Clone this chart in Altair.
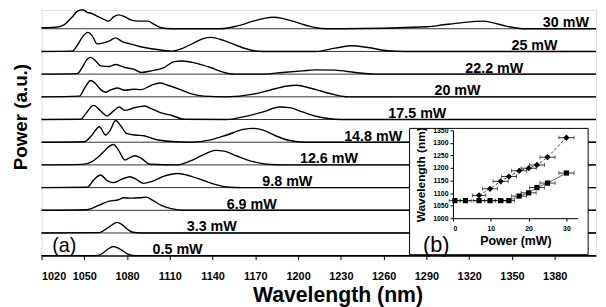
import altair as alt
import pandas as pd

FONT = "Liberation Sans"

powers = ["0.5 mW", "3.3 mW", "6.9 mW", "9.8 mW", "12.6 mW", "14.8 mW",
          "17.5 mW", "20 mW", "22.2 mW", "25 mW", "30 mW"]

wl_05 = [1020, 1058, 1062, 1066, 1070.5, 1075, 1082, 1086, 1409]
pw_05 = [0, 0, 1.7, 6, 9.3, 6.7, 0.7, 0, 0]

wl_33 = [1020, 1060, 1067, 1073, 1076, 1080, 1084, 1090, 1409]
pw_33 = [0, 0.3, 5.7, 10.7, 9, 4, 0.7, 0, 0]

wl_69 = [1020, 1051, 1060, 1067, 1074, 1077.5, 1083, 1089, 1093.5, 1098, 1104, 1111, 1120, 1409]
pw_69 = [0, 0.5, 5, 9, 10.7, 12.7, 12.3, 12.7, 13.3, 10, 5, 1.7, 0, 0]

wl_98 = [1020, 1052, 1056.5, 1061.5, 1066, 1070.5, 1076, 1082, 1086.5, 1091.5, 1097, 1106,
         1115.5, 1124.5, 1134, 1143, 1152, 1160, 1409]
pw_98 = [0, 0.3, 7.7, 12.7, 7, 5, 8.3, 11, 8.3, 4.3, 6, 11.7, 14.3, 11.7, 7, 2.7, 0.3, 0, 0]

wl_126 = [1020, 1048.5, 1055.5, 1062.5, 1067, 1070.5, 1074, 1078.5, 1082, 1085.5, 1090, 1096,
          1115, 1124.5, 1134, 1142, 1148, 1157, 1168.5, 1178, 1190, 1409]
pw_126 = [0, 0.5, 3.3, 11.7, 18.3, 20.7, 15, 5, 7.3, 9.3, 6.7, 0.7, 0, 4, 10.7, 14.7, 14, 9,
          3.3, 0.7, 0, 0]

wl_148 = [1020, 1050, 1054.5, 1058, 1060.5, 1065, 1068, 1072, 1076, 1079.5, 1085.5, 1092.5,
          1099.5, 1111, 1125, 1138.5, 1150, 1161.5, 1168.5, 1175.5, 1184.5, 1194, 1205, 1409]
pw_148 = [0, 0.5, 5.7, 12.3, 15.7, 7.3, 11.7, 22, 15.7, 9, 7.3, 6.3, 3, 0.7, 0, 2.3, 7.3, 13,
          14, 12.3, 6.3, 1.7, 0, 0]

wl_175 = [1020, 1047.5, 1051, 1056.5, 1061.5, 1066, 1070.5, 1074.5, 1078.5, 1084.5, 1092.5,
          1097, 1104, 1111, 1120, 1150, 1161.5, 1175.5, 1187, 1194, 1203, 1212.5, 1221, 1230, 1409]
pw_175 = [0, 0.3, 6, 14.3, 8.7, 3.7, 8.7, 12.7, 9.3, 11.7, 13.7, 11, 6.7, 4.3, 0.3, 0, 2.7,
          7.7, 12.7, 12, 7.7, 3.3, 1, 0, 0]

wl_20 = [1020, 1046.5, 1050, 1054.5, 1058, 1061.5, 1065, 1068, 1073, 1078.5, 1084.5, 1090,
         1097, 1103, 1108.5, 1115.5, 1124.5, 1134, 1150, 1168.5, 1180, 1191.5, 1198.5, 1205.5,
         1212.5, 1226, 1235, 1409]
pw_20 = [0, 0.7, 8.3, 16.5, 13.3, 7.3, 4.7, 6.7, 9, 6.7, 7.7, 7.3, 11.7, 14, 11.7, 8.3, 3.3,
         0.7, 0, 2.7, 6.7, 10.7, 11.7, 10, 7.3, 2, 0, 0]

wl_222 = [1020, 1045, 1048.5, 1052, 1054.5, 1058, 1061.5, 1067, 1072, 1078.5, 1084.5, 1090,
          1097, 1106, 1113, 1118, 1124.5, 1129.5, 1138.5, 1148, 1155, 1175, 1189, 1203, 1212,
          1226, 1240, 1254, 1409]
pw_222 = [0, 0.5, 6.7, 15, 17, 13.3, 8.3, 7.7, 9.7, 6.7, 5, 1.7, 3.3, 6.7, 12.7, 13.3, 12.3,
          10.7, 6.7, 1.7, 0, 0, 1.7, 3.3, 4.3, 4, 1.7, 0, 0]

wl_25 = [1020, 1041.5, 1045, 1048.5, 1052.5, 1055.5, 1059, 1063.5, 1068, 1072, 1076.5, 1082,
         1088, 1097, 1106, 1111, 1118, 1127, 1134, 1138.5, 1148, 1157, 1166, 1175, 1212, 1226,
         1238, 1249, 1263, 1275, 1409]
pw_25 = [0, 0.3, 6, 14.3, 19.3, 16, 7.7, 8.7, 11, 13.7, 10, 7.7, 5.3, 2.7, 1, 0.3, 2.7, 8.7,
         13.3, 14.3, 11, 6, 1.7, 0, 0, 3.3, 5.7, 4, 0.7, 0, 0]

wl_30 = [1020, 1030, 1035, 1038, 1042, 1045, 1049, 1052, 1055.5, 1060, 1065, 1067, 1070.5,
         1074, 1078.5, 1083, 1088, 1095, 1098, 1104, 1111, 1145, 1157, 1168.5, 1175.5, 1182.5,
         1189.5, 1198.5, 1207.5, 1212.5, 1220, 1230, 1290.5, 1302, 1314, 1330, 1337, 1346,
         1360, 1409]
pw_30 = [1, 1.5, 3.3, 6.7, 12.7, 17.7, 19.3, 16.7, 15.3, 12, 8.7, 7.7, 12, 14, 12, 8.7, 7.7,
         7.7, 5.3, 1, 0, 0, 2.7, 7.7, 10.3, 11.7, 10.3, 6.7, 2.7, 1, 0, 0, 2, 4, 6, 7.7, 6,
         2.7, 0, 0]

# right end of each power label (nm)
label_wl = [1133, 1157, 1185, 1210, 1242, 1273, 1304, 1328, 1358, 1382, 1404]

# inset (b)
in_p_up = [6.9, 9.8, 12.6, 14.8, 17.5, 20, 22.2, 25, 30]
in_w_up = [1091, 1117, 1147, 1166, 1189, 1199, 1212, 1243, 1321]
in_e_up = [1.8, 2, 2, 2, 2, 2, 2, 2, 2]
in_p_lo = [0.5, 3.3, 6.9, 9.8, 12.6, 14.8, 17.5, 20, 22.2, 25, 30]
in_w_lo = [1070, 1070, 1070, 1070, 1070, 1070, 1088, 1101, 1122, 1140, 1180]
in_e_lo = [1.5, 1.5, 1.5, 1.5, 1.5, 1.5, 2, 2, 2, 2, 2]

spectra = [(wl_05, pw_05), (wl_33, pw_33), (wl_69, pw_69), (wl_98, pw_98),
           (wl_126, pw_126), (wl_148, pw_148), (wl_175, pw_175), (wl_20, pw_20),
           (wl_222, pw_222), (wl_25, pw_25), (wl_30, pw_30)]

ROW = 23
rows = []
for k, (wl, pw) in enumerate(spectra):
    for w, p in zip(wl, pw):
        rows.append({"row": powers[k], "wl": w, "y": k * ROW + p})
spec_df = pd.DataFrame(rows)
base_df = pd.DataFrame({"row": powers, "y": [k * ROW for k in range(len(powers))]})
lab_df = pd.DataFrame({"row": powers, "wl": label_wl,
                       "y": [k * ROW + 1.5 for k in range(len(powers))]})

W, H = 562, 249

x_main = alt.X("wl:Q",
               scale=alt.Scale(domain=[1020, 1409], nice=False, zero=False),
               axis=alt.Axis(values=list(range(1020, 1381, 30)), format="d",
                             title="Wavelength (nm)",
                             grid=False, labelFont=FONT, labelFontWeight="bold",
                             labelFontSize=11, labelColor="black", tickSize=4,
                             tickColor="black", domainColor="black", labelPadding=11,
                             titleFont=FONT, titleFontSize=21.5, titleFontWeight="bold",
                             titleColor="black", titlePadding=3, titleX=300))
y_main = alt.Y("y:Q",
               scale=alt.Scale(domain=[0, H], nice=False, zero=False),
               axis=alt.Axis(title="Power (a.u.)", labels=False, ticks=False, grid=False,
                             domain=False, titleFont=FONT, titleFontSize=19,
                             titleFontWeight="bold", titleColor="black", titlePadding=11,
                             titleY=108))

baselines = alt.Chart(base_df).mark_rule(color="#333", strokeWidth=1).encode(y=y_main)
curves = alt.Chart(spec_df).mark_line(interpolate="monotone", color="black",
                                      strokeWidth=1.4).encode(x=x_main, y=y_main, detail="row:N")
labels = alt.Chart(lab_df).mark_text(align="right", baseline="alphabetic", font=FONT,
                                     fontWeight="bold", fontSize=14.5, color="black").encode(
    x=x_main, y=y_main, text="row:N")
one = pd.DataFrame({"a": [0]})
tag_a = alt.Chart(one).mark_text(text="(a)", font=FONT, fontSize=20, color="black",
                                 align="center", baseline="middle").encode(
    x=alt.value(23), y=alt.value(239))

main = alt.layer(baselines, curves, labels, tag_a)

# inset
box = alt.Chart(one).mark_rect(fill="white", stroke="black", strokeWidth=1).encode(
    x=alt.value(373), x2=alt.value(554), y=alt.value(120), y2=alt.value(248))

up_df = pd.DataFrame({"p": in_p_up, "w": in_w_up,
                      "lo": [p - e for p, e in zip(in_p_up, in_e_up)],
                      "hi": [p + e for p, e in zip(in_p_up, in_e_up)]})
lo_df = pd.DataFrame({"p": in_p_lo, "w": in_w_lo,
                      "lo": [p - e for p, e in zip(in_p_lo, in_e_lo)],
                      "hi": [p + e for p, e in zip(in_p_lo, in_e_lo)]})

xs_in = alt.Scale(domain=[0, 33], range=[417, 543.5], nice=False, zero=False)
ys_in = alt.Scale(domain=[1000, 1350], range=[211, 122], nice=False, zero=False)
x_in = alt.X("p:Q", scale=xs_in,
             axis=alt.Axis(orient="bottom", offset=-38, values=[0, 10, 20, 30], format="d",
                           grid=False,
                           title="Power (mW)", labelFont=FONT, labelFontWeight="bold",
                           labelFontSize=7, labelColor="black", tickSize=3, tickColor="black",
                           domainColor="black", labelPadding=4, titleFont=FONT,
                           titleFontSize=12.5, titleFontWeight="bold", titleColor="black",
                           titlePadding=3, zindex=2))
y_in = alt.Y("w:Q", scale=ys_in,
             axis=alt.Axis(orient="left", offset=-417, format="d",
                           values=[1000, 1050, 1100, 1150, 1200, 1250, 1300, 1350], grid=False,
                           title="Wavelength (nm)", labelFont=FONT, labelFontWeight="bold",
                           labelFontSize=7, labelColor="black", tickSize=3, tickColor="black",
                           domainColor="black", labelPadding=2, titleFont=FONT,
                           titleFontSize=12, titleFontWeight="bold", titleColor="black",
                           titlePadding=5, zindex=2))
x_lo = alt.X("lo:Q", scale=xs_in)

def series(df, shape, size, dash):
    line = alt.Chart(df).mark_line(color="#333", strokeWidth=0.9, strokeDash=dash).encode(
        x=x_in, y=y_in)
    err = alt.Chart(df).mark_rule(color="black", strokeWidth=0.8).encode(
        x=x_lo, x2="hi:Q", y=y_in)
    cap1 = alt.Chart(df).mark_tick(orient="vertical", color="black", size=4,
                                   thickness=0.8).encode(x=x_lo, y=y_in)
    cap2 = alt.Chart(df).mark_tick(orient="vertical", color="black", size=4,
                                   thickness=0.8).encode(x=alt.X("hi:Q", scale=xs_in), y=y_in)
    pts = alt.Chart(df).mark_point(shape=shape, filled=True, size=size, color="black",
                                   opacity=1).encode(x=x_in, y=y_in)
    return [line, err, cap1, cap2, pts]

inset = alt.layer(*series(up_df, "diamond", 40, [3, 2]), *series(lo_df, "square", 28, [1, 0]))

tag_b = alt.Chart(one).mark_text(text="(b)", font=FONT, fontSize=22, color="black",
                                 align="center", baseline="middle").encode(
    x=alt.value(400), y=alt.value(238))

chart = alt.layer(main, box, inset, tag_b).resolve_scale(
    x="independent", y="independent").properties(
    width=W, height=H, autosize="none",
    padding={"left": 34, "top": 0, "right": 2, "bottom": 50}
).configure_view(stroke="black", strokeWidth=1).configure(background="white")

chart.save("out.html", embed_options={"renderer": "svg", "actions": False})
